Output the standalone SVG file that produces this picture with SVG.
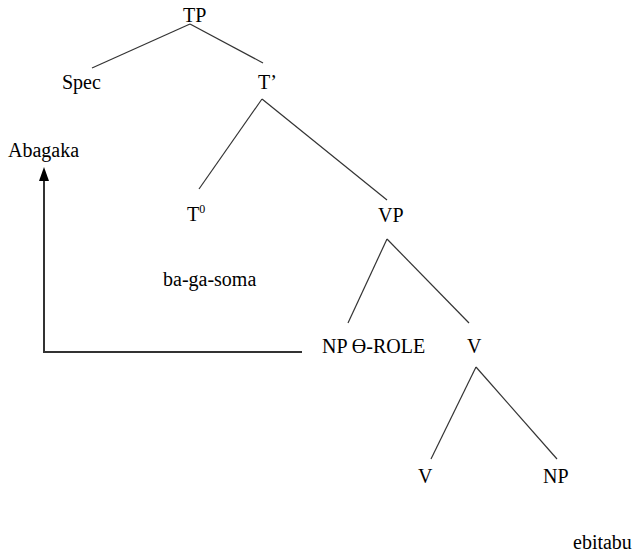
<svg xmlns="http://www.w3.org/2000/svg" width="635" height="553" viewBox="0 0 635 553">
<style>
text{font-family:"Liberation Serif","Times New Roman",serif;font-size:20px;fill:#000}
.e{stroke:#333;stroke-width:1.2;fill:none}
</style>
<rect width="635" height="553" fill="#fff"/>
<g id="connectors">
<line class="e" x1="190" y1="24" x2="92" y2="68"/>
<line class="e" x1="190" y1="24" x2="263" y2="63"/>
<line class="e" x1="262" y1="99" x2="199" y2="189"/>
<line class="e" x1="262" y1="99" x2="387" y2="200"/>
<line class="e" x1="387" y1="239" x2="348" y2="323"/>
<line class="e" x1="387" y1="239" x2="469" y2="323"/>
<line class="e" x1="476" y1="367" x2="431" y2="459"/>
<line class="e" x1="476" y1="367" x2="557" y2="459"/>
<path d="M302,352 L44,352 L44,170" fill="none" stroke="#333" stroke-width="2"/>
<path d="M44,167 L39,181 L49,181 Z" fill="#000"/>
</g>
<g id="TP"><text x="183" y="22">TP</text></g>
<g id="Spec"><text x="62" y="89">Spec</text></g>
<g id="Tbar"><text x="258" y="89">T’</text></g>
<g id="Abagaka"><text x="8" y="157">Abagaka</text></g>
<g id="T0"><text x="187" y="221">T<tspan font-size="12" dy="-8">0</tspan></text></g>
<g id="VP"><text x="378" y="222">VP</text></g>
<g id="bagasoma"><text x="163" y="286">ba-ga-soma</text></g>
<g id="NP-role"><text x="322" y="353">NP ϴ-ROLE</text></g>
<g id="V1"><text x="467" y="353">V</text></g>
<g id="V2"><text x="418" y="483">V</text></g>
<g id="NP2"><text x="543" y="483">NP</text></g>
<g id="ebitabu"><text x="573" y="549">ebitabu</text></g>
</svg>
